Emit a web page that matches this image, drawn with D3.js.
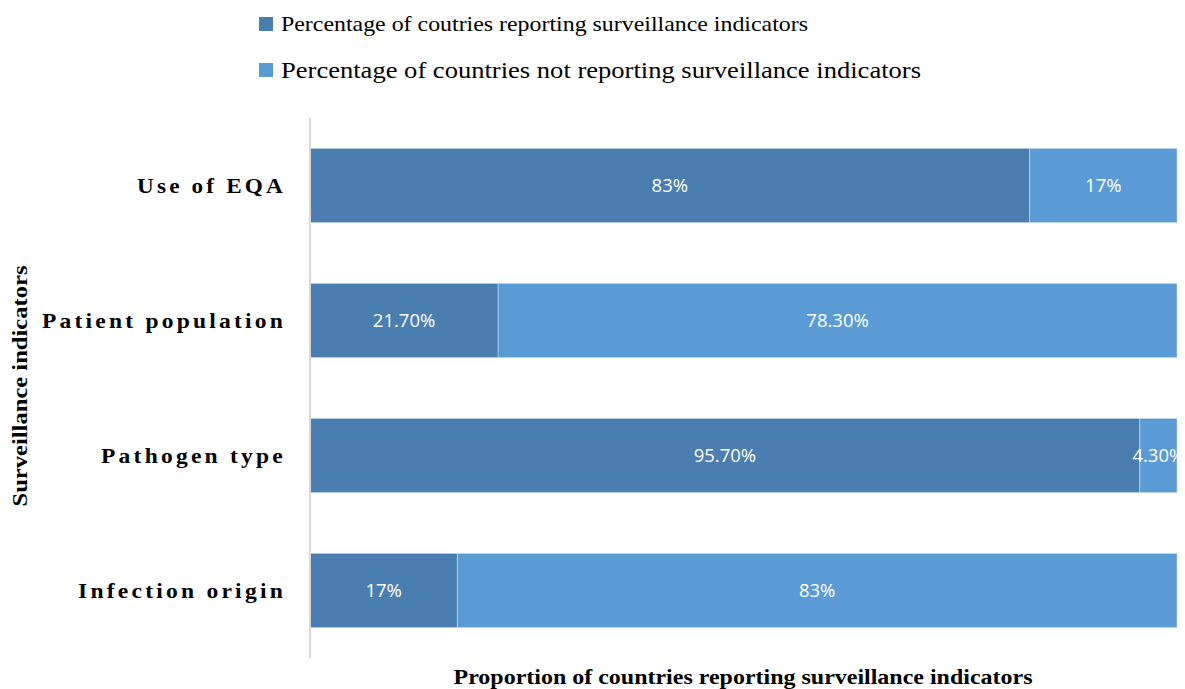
<!DOCTYPE html>
<html>
<head>
<meta charset="utf-8">
<script src="https://cdn.jsdelivr.net/npm/d3@7/dist/d3.min.js"></script>
<style>
  html, body { margin: 0; padding: 0; background: #fff; }
  svg { display: block; }
</style>
</head>
<body>
<svg id="chart" width="1185" height="689"></svg>
<script>
// Surveillance indicators, top to bottom
const categories = ["Use of EQA", "Patient population", "Pathogen type", "Infection origin"];
// Share of countries reporting each indicator (%)
const reporting = [83, 21.7, 95.7, 17];
// Share of countries not reporting each indicator (%)
const notReporting = [17, 78.3, 4.3, 83];
// Text printed inside each segment
const reportingLabels = ["83%", "21.70%", "95.70%", "17%"];
const notReportingLabels = ["17%", "78.30%", "4.30%", "83%"];
const seriesNames = [
  "Percentage of coutries reporting surveillance indicators",
  "Percentage of countries not reporting surveillance indicators"
];

const colors = ["#4a7eb0", "#5b9bd5"];
const serif = "'Liberation Serif', 'DejaVu Serif', serif";
const svg = d3.select("#chart");

const plot = { left: 310, right: 1177, top: 118, bottom: 658 };

const x = d3.scaleLinear().domain([0, 100]).range([plot.left, plot.right]);
const y = d3.scaleBand().domain(categories).range([plot.top, plot.bottom]).paddingInner(0.45).paddingOuter(0.225);

const rows = categories.map((c, i) => ({
  category: c,
  segments: [
    { start: 0, end: reporting[i], label: reportingLabels[i], s: 0 },
    { start: reporting[i], end: reporting[i] + notReporting[i], label: notReportingLabels[i], s: 1 }
  ]
}));

svg.append("defs").append("clipPath").attr("id", "plotClip")
  .append("rect")
  .attr("x", plot.left).attr("y", plot.top)
  .attr("width", plot.right - plot.left).attr("height", plot.bottom - plot.top);

const g = svg.append("g").attr("clip-path", "url(#plotClip)");

const rowG = g.selectAll("g.row").data(rows).join("g").attr("class", "row");

rowG.selectAll("rect")
  .data(d => d.segments.map(s => ({ ...s, category: d.category })))
  .join("rect")
  .attr("x", d => x(d.start))
  .attr("y", d => y(d.category))
  .attr("width", d => x(d.end) - x(d.start))
  .attr("height", y.bandwidth())
  .attr("fill", d => colors[d.s])
  .attr("stroke", "#ffffff")
  .attr("stroke-opacity", 0.35)
  .attr("stroke-width", 1);

rowG.selectAll("text")
  .data(d => d.segments.map(s => ({ ...s, category: d.category })))
  .join("text")
  .attr("x", d => (x(d.start) + x(d.end)) / 2)
  .attr("y", d => y(d.category) + y.bandwidth() / 2)
  .attr("dy", "0.36em")
  .attr("text-anchor", "middle")
  .attr("fill", "#ffffff")
  .style("font-family", "'Open Sans', 'Liberation Sans', sans-serif")
  .style("font-size", "18.5px")
  .text(d => d.label);

// Category axis
const labelWidths = { "Use of EQA": 149, "Patient population": 244, "Pathogen type": 185, "Infection origin": 208 };
const yAxis = svg.append("g")
  .attr("transform", `translate(${plot.left},0)`)
  .call(d3.axisLeft(y).tickSize(0).tickPadding(24));
yAxis.select(".domain")
  .attr("stroke", "#d9d9d9").attr("stroke-width", 2)
  .attr("d", `M0,${plot.top}V${plot.bottom}`);
yAxis.selectAll(".tick text")
  .attr("fill", "#000")
  .attr("textLength", d => labelWidths[d])
  .attr("lengthAdjust", "spacingAndGlyphs")
  .style("font-family", serif)
  .style("font-size", "22px")
  .style("font-weight", "bold")
  .style("letter-spacing", "3px");

// Axis titles
svg.append("text")
  .attr("transform", `translate(27,${(plot.top + plot.bottom) / 2 - 2}) rotate(-90)`)
  .attr("text-anchor", "middle")
  .attr("textLength", 241)
  .attr("lengthAdjust", "spacingAndGlyphs")
  .style("font-family", serif)
  .style("font-size", "22px")
  .style("font-weight", "bold")
  .text("Surveillance indicators");

svg.append("text")
  .attr("x", 743)
  .attr("y", 684)
  .attr("text-anchor", "middle")
  .attr("textLength", 579)
  .attr("lengthAdjust", "spacingAndGlyphs")
  .style("font-family", serif)
  .style("font-size", "22px")
  .style("font-weight", "bold")
  .text("Proportion of countries reporting surveillance indicators");

// Legend
const legendItems = [
  { name: seriesNames[0], y: 24, size: 21, len: 527, color: colors[0] },
  { name: seriesNames[1], y: 70, size: 23, len: 640, color: colors[1] }
];
const lg = svg.append("g").selectAll("g").data(legendItems).join("g");
lg.append("rect")
  .attr("x", 259).attr("y", d => d.y - 7)
  .attr("width", 14).attr("height", 14)
  .attr("fill", d => d.color);
lg.append("text")
  .attr("x", 281).attr("y", d => d.y)
  .attr("dy", "0.35em")
  .attr("textLength", d => d.len)
  .attr("lengthAdjust", "spacingAndGlyphs")
  .style("font-family", serif)
  .style("font-size", d => d.size + "px")
  .attr("fill", "#000")
  .text(d => d.name);
</script>
</body>
</html>
